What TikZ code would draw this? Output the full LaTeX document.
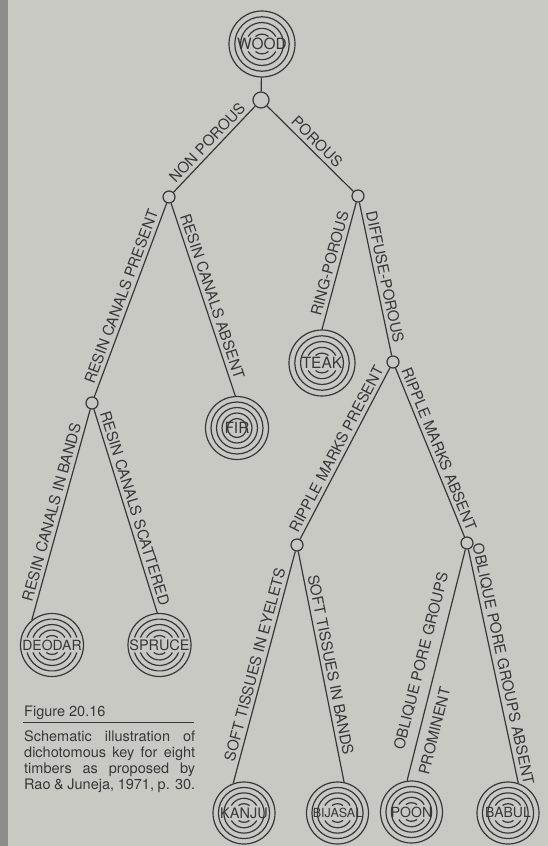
\documentclass[tikz,border=0pt]{standalone}
\usepackage{fontspec}
\setmainfont{TeX Gyre Heros}
\definecolor{page}{RGB}{201,201,196}
\definecolor{pageedge}{RGB}{140,140,136}
\definecolor{ink}{RGB}{55,55,55}

% one wood cross-section: outer ring is the node border, four inner rings,
% the inner ones broken around the name
% #1 name, #2 x, #3 y (downward), #4 outer radius, #5 full rings, #6 font size, #7 text
\newcommand\woodring[7]{%
  \node[ringbox, minimum size=2*#4pt] (#1) at (#2,-#3) {};
  \node[ringtext, font=\fontsize{#6}{#6}\selectfont] (#1-t) at (#1.center) {#7};
  \foreach \k in {1,...,4}{%
    \pgfmathsetmacro\rr{#4*(1-0.175*\k)}%
    \ifnum\k<#5\relax
      \draw[ringline] (#1.center) circle[radius=\rr];
    \else
      \pgfmathsetmacro\aa{asin(7.5/\rr)}%
      \draw[ringline] ([shift={(\aa:\rr)}]#1.center) arc[start angle=\aa, end angle=180-\aa, radius=\rr];
      \draw[ringline] ([shift={(-\aa:\rr)}]#1.center) arc[start angle=-\aa, end angle=-180+\aa, radius=\rr];
    \fi
  }%
}

\begin{document}
\begin{tikzpicture}[x=1pt, y=1pt,
  ringbox/.style={circle, draw=ink, line width=1.2pt, inner sep=0pt},
  ringline/.style={draw=ink, line width=1.2pt},
  ringtext/.style={text=ink, inner sep=0pt},
  junc/.style={circle, draw=ink, fill=page, line width=1.2pt, inner sep=0pt, minimum size=12pt},
  topjunc/.style={junc, minimum size=16pt},
  edge/.style={draw=ink, line width=1.2pt},
  lab/.style={text=ink, sloped, inner sep=3.5pt, font=\fontsize{15}{15}\selectfont},
  captxt/.style={text=ink, inner sep=0pt, anchor=base west, font=\fontsize{14.5}{16}\selectfont}
]
% page
\fill[page] (0,0) rectangle (548,-846);
\fill[pageedge] (0,0) rectangle (8,-846);
\useasboundingbox (0,0) rectangle (548,-846);

% timbers
\woodring{wood}{262}{44}{33}{3}{15.5}{WOOD}
\woodring{fir}{237}{428}{31.5}{5}{15.5}{FIR}
\woodring{teak}{322}{363}{33}{3}{15.5}{TEAK}
\woodring{deodar}{52}{645}{31.5}{1}{14}{DEODAR}
\woodring{spruce}{159.5}{645}{31.5}{1}{14.5}{SPRUCE}
\woodring{kanju}{244}{813}{31}{3}{14.5}{KANJU}
\woodring{bijasal}{337.5}{813}{31}{3}{12.5}{BIJASAL}
\woodring{poon}{411.5}{812}{31}{3}{14}{POON}
\woodring{babul}{508}{813}{31}{3}{14}{BABUL}

% branching points
\node[topjunc] (j0) at (261,-100) {};
\node[junc] (np) at (169,-197) {};
\node[junc] (po) at (358,-196) {};
\node[junc] (rcp) at (92,-403) {};
\node[junc] (dp) at (393,-362) {};
\node[junc] (rmp) at (297,-545) {};
\node[junc] (rma) at (467,-543) {};

% key
\draw[edge] (wood) -- (j0);
\draw[edge] (j0) -- node[lab, above] {NON POROUS} (np);
\draw[edge] (j0) -- node[lab, above] {POROUS} (po);
\draw[edge] (np) -- node[lab, above] {RESIN CANALS PRESENT} (rcp);
\draw[edge] (np) -- node[lab, above] {RESIN CANALS ABSENT} (fir.93);
\draw[edge] (po) -- node[lab, above] {RING-POROUS} (teak.90);
\draw[edge] (po) -- node[lab, above] {DIFFUSE-POROUS} (dp);
\draw[edge] (rcp) -- node[lab, above] {RESIN CANALS IN BANDS} (deodar.129);
\draw[edge] (rcp) -- node[lab, above] {RESIN CANALS SCATTERED} (spruce.94);
\draw[edge] (dp) -- node[lab, above] {RIPPLE MARKS PRESENT} (rmp);
\draw[edge] (dp) -- node[lab, above] {RIPPLE MARKS ABSENT} (rma);
\draw[edge] (rmp) -- node[lab, above] {SOFT TISSUES IN EYELETS} (kanju.110);
\draw[edge] (rmp) -- node[lab, above] {SOFT TISSUES IN BANDS} (bijasal.78);
\draw[edge] (rma) -- node[lab, above, pos=0.5, inner sep=9pt] {OBLIQUE PORE GROUPS}
                     node[lab, below, pos=0.77, inner sep=8pt] {PROMINENT} (poon.98);
\draw[edge] (rma) -- node[lab, above] {OBLIQUE PORE GROUPS ABSENT} (babul.71);

% caption
\node[captxt] (fig) at (24,-716) {Figure 20.16};
\coordinate (ruleA) at (23,-722);
\coordinate (ruleB) at (194,-722);
\draw[ink, line width=1pt] (ruleA) -- (ruleB);
\node[captxt] (c1) at (24,-741) {\makebox[171pt][s]{Schematic illustration of}};
\node[captxt] (c2) at (24,-757) {\makebox[171pt][s]{dichotomous key for eight}};
\node[captxt] (c3) at (24,-773) {\makebox[171pt][s]{timbers as proposed by}};
\node[captxt] (c4) at (24,-789) {\makebox[171pt][s]{Rao \& Juneja, 1971, p. 30.}};
\end{tikzpicture}
\end{document}
